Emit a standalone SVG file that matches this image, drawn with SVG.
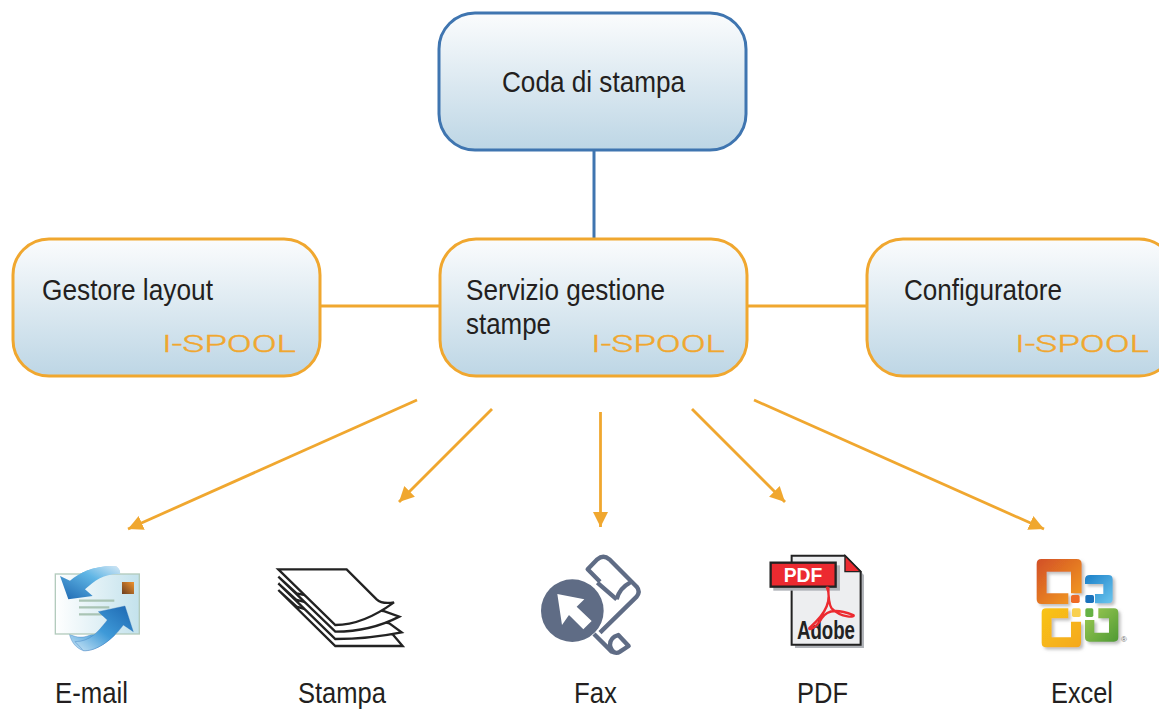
<svg xmlns="http://www.w3.org/2000/svg" width="1159" height="710" viewBox="0 0 1159 710">
<style>
.box{fill:url(#bg);stroke-width:3}
.o{stroke:#f0a72f}
.b{stroke:#3f75b0}
.t{font-family:"Liberation Sans",Arial,sans-serif;font-size:29px;fill:#231f20}
.logo{font-family:"Roboto","Liberation Sans",sans-serif;font-weight:300;font-size:23.500px;fill:#f0a72f;stroke:#f0a72f;stroke-width:.4}
.c{fill:none;stroke-width:3}
.ar{fill:none;stroke:#f0a72f;stroke-width:2.800;marker-end:url(#ah)}
.pg{fill:#fff;stroke:#222;stroke-width:7;stroke-linejoin:miter}
</style>
<defs>
<linearGradient id="bg" x1="0" y1="0" x2="0" y2="1"><stop offset="0" stop-color="#fbfcfd"/><stop offset="1" stop-color="#bdd6e5"/></linearGradient>
<linearGradient id="env" x1="0" y1="0" x2="1" y2="0"><stop offset="0" stop-color="#fff"/><stop offset="1" stop-color="#c3e2ec"/></linearGradient>
<linearGradient id="arw" x1="1" y1="0" x2="0" y2="1"><stop offset="0" stop-color="#d5e8f5"/><stop offset=".4" stop-color="#5fb5e5"/><stop offset="1" stop-color="#1c66b0"/></linearGradient>
<linearGradient id="arb" x1="0" y1="1" x2="1" y2="0"><stop offset="0" stop-color="#c8e4f5"/><stop offset=".45" stop-color="#3f9ad8"/><stop offset="1" stop-color="#1c66b0"/></linearGradient>
<linearGradient id="stp" x1="0" y1="1" x2="1" y2="0"><stop offset="0" stop-color="#6b3f20"/><stop offset="1" stop-color="#f0922c"/></linearGradient>
<linearGradient id="of1" x1="0" y1="0" x2="1" y2="1"><stop offset="0" stop-color="#d24f26"/><stop offset="1" stop-color="#f5a021"/></linearGradient>
<linearGradient id="of2" x1="0" y1="0" x2="1" y2="1"><stop offset="0" stop-color="#1a7fc8"/><stop offset="1" stop-color="#6cc6ee"/></linearGradient>
<linearGradient id="of3" x1="0" y1="0" x2="1" y2="1"><stop offset="0" stop-color="#f8c418"/><stop offset="1" stop-color="#f5a81c"/></linearGradient>
<linearGradient id="of4" x1="0" y1="0" x2="1" y2="1"><stop offset="0" stop-color="#9fcb54"/><stop offset="1" stop-color="#4f9a34"/></linearGradient>
<filter id="sh" x="-10%" y="-10%" width="125%" height="125%"><feDropShadow dx="7" dy="7" stdDeviation="4" flood-color="#888" flood-opacity=".55"/></filter>
<marker id="ah" markerUnits="userSpaceOnUse" markerWidth="17" markerHeight="16" refX="15" refY="7.500" orient="auto"><path d="M0,0L15,7.500L0,15Z" fill="#f0a72f"/></marker>
</defs>
<g id="connectors">
<path class="c b" d="M594,150V239"/>
<path class="c o" d="M320,306H440M747,306H867"/>
<path class="ar" d="M417,400L128,529"/>
<path class="ar" d="M492,409L399,502"/>
<path class="ar" d="M600.500,412V527"/>
<path class="ar" d="M692,409L785,502"/>
<path class="ar" d="M754,400L1044,529"/>
</g>
<g id="coda"><rect class="box b" x="439" y="13" width="307" height="137" rx="36"/><text class="t" x="502" y="92" textLength="183" lengthAdjust="spacingAndGlyphs">Coda di stampa</text></g>
<g id="gestore"><rect class="box o" x="13" y="239" width="307" height="137" rx="36"/><text class="t" x="42" y="300" textLength="171" lengthAdjust="spacingAndGlyphs">Gestore layout</text><text class="logo" x="162" y="352" textLength="134" lengthAdjust="spacingAndGlyphs">I-SPOOL</text></g>
<g id="servizio"><rect class="box o" x="440" y="239" width="307" height="137" rx="36"/><text class="t" x="466" y="300" textLength="199" lengthAdjust="spacingAndGlyphs">Servizio gestione</text><text class="t" x="466" y="334" textLength="85" lengthAdjust="spacingAndGlyphs">stampe</text><text class="logo" x="591" y="352" textLength="134" lengthAdjust="spacingAndGlyphs">I-SPOOL</text></g>
<g id="configuratore"><rect class="box o" x="867" y="239" width="308" height="137" rx="36"/><text class="t" x="904" y="300" textLength="158" lengthAdjust="spacingAndGlyphs">Configuratore</text><text class="logo" x="1015" y="352" textLength="134" lengthAdjust="spacingAndGlyphs">I-SPOOL</text></g>
<g id="email">
<g transform="translate(30,540) scale(.3333)">
<path d="M118,282C125,310 140,325 160,332C190,335 240,310 280,255L310,275L285,198L205,215L232,240C190,295 150,300 118,282Z" fill="url(#arb)" stroke="#2a6db5"/>
<path d="M120,122C150,95 200,75 258,78C268,85 272,95 270,110L200,120Z" fill="url(#arw)"/>
<rect x="76" y="102" width="252" height="180" fill="url(#env)" stroke="#b3cbbd" stroke-width="4"/>
<rect x="276" y="126" width="36" height="36" fill="url(#stp)"/>
<path d="M147,182H253M147,202H238M147,223H235" stroke="#a9c4b4" stroke-width="7" fill="none"/>
<path d="M90,108L120,122C150,95 200,75 258,78C268,85 272,95 270,102C225,100 195,120 165,148L188,168L115,178Z" fill="url(#arw)"/>
<path d="M285,198L310,275L280,255C240,310 190,335 160,332C150,320 140,310 135,305C180,305 205,275 232,240L205,215Z" fill="url(#arb)" stroke="#2a6db5"/>
</g>
<text class="t" x="55" y="703" textLength="73" lengthAdjust="spacingAndGlyphs">E-mail</text>
</g>
<g id="stampa">
<g transform="translate(30,540) scale(.3333)">
<path class="pg" d="M745,150L916,318H1118L1088,283L800,200Z"/>
<path class="pg" d="M745,130L916,297C980,297 1050,290 1115,277L1078,250L800,180Z"/>
<path class="pg" d="M745,110L916,275C980,275 1050,260 1108,230L1060,213L800,160Z"/>
<path class="pg" d="M745,88H950L1040,178C1055,192 1075,190 1092,187C1040,225 980,255 916,255Z"/>
</g>
<text class="t" x="298" y="703" textLength="88" lengthAdjust="spacingAndGlyphs">Stampa</text>
</g>
<g id="fax">
<g transform="translate(520,540) scale(.3333)">
<path d="M240,125L203,88L232,58Q250,42 268,58L350,140Q362,155 350,170L240,278M222,282L275,335Q290,342 300,335L326,318L295,285Q270,292 270,315Q272,330 285,338M290,178L232,128M290,178Q298,145 330,128" fill="none" stroke="#5f6c85" stroke-width="13" stroke-linejoin="round"/>
<circle cx="157" cy="212" r="94" fill="#5f6c85"/>
<path d="M112,162L193,178L170,200L215,243L190,268L147,225L126,255Z" fill="#fff"/>
</g>
<text class="t" x="574" y="703" textLength="43" lengthAdjust="spacingAndGlyphs">Fax</text>
</g>
<g id="pdf">
<g transform="translate(520,540) scale(.3333)">
<path d="M825,57H985L1032,105V324H825Z" fill="#b0b3b8"/>
<path d="M815,47H975L1022,95V314H815Z" fill="#edeef0" stroke="#222" stroke-width="6"/>
<path d="M975,47V95H1022Z" fill="#ec2a30" stroke="#222" stroke-width="4"/>
<rect x="760" y="76" width="200" height="76" fill="#b0b3b8"/>
<rect x="752" y="68" width="195" height="72" fill="#ec2a30" stroke="#222" stroke-width="7"/>
<text x="849" y="126" text-anchor="middle" font-family="'Liberation Sans',Arial,sans-serif" font-weight="700" font-size="58" fill="#fff">PDF</text>
<text x="831" y="297" textLength="174" lengthAdjust="spacingAndGlyphs" font-family="'Liberation Sans',Arial,sans-serif" font-weight="700" font-size="78" fill="#222">Adobe</text>
<path d="M920,140C935,175 925,215 870,262C860,272 885,270 905,235C925,205 960,210 1000,225C1010,232 965,235 935,205C925,190 925,160 925,140" fill="none" stroke="#ec2a30" stroke-width="7"/>
</g>
<text class="t" x="797" y="703" textLength="51" lengthAdjust="spacingAndGlyphs">PDF</text>
</g>
<g id="excel">
<g transform="translate(1010,540) scale(.3333)">
<g filter="url(#sh)">
<path d="M94,57H200Q215,57 215,72V160H183V95H110V160H175V192H94Q80,192 80,178V72Q80,57 94,57Z" fill="url(#of1)"/>
<path d="M240,105H295Q308,105 308,118V178Q308,190 295,190H255V162H280V132H225V118Q225,105 240,105Z" fill="url(#of2)"/>
<path d="M108,205H175V235H125V292H183V245H213V308Q213,322 200,322H108Q95,322 95,308V218Q95,205 108,205Z" fill="url(#of3)"/>
<path d="M265,205H312Q325,205 325,218V292Q325,305 312,305H238Q225,305 225,292V240H253V278H297V235H265Z" fill="url(#of4)"/>
</g>
<rect x="183" y="165" width="26" height="24" rx="5" fill="#ee6a25"/>
<rect x="226" y="165" width="26" height="24" rx="5" fill="#1a72bc"/>
<rect x="186" y="205" width="26" height="26" rx="5" fill="#f8d050"/>
<rect x="226" y="205" width="24" height="26" rx="5" fill="#66b245"/>
<text x="342" y="305" text-anchor="middle" font-family="'Liberation Sans',Arial,sans-serif" font-size="24" fill="#666">®</text>
</g>
<text class="t" x="1051" y="703" textLength="62" lengthAdjust="spacingAndGlyphs">Excel</text>
</g>
</svg>
